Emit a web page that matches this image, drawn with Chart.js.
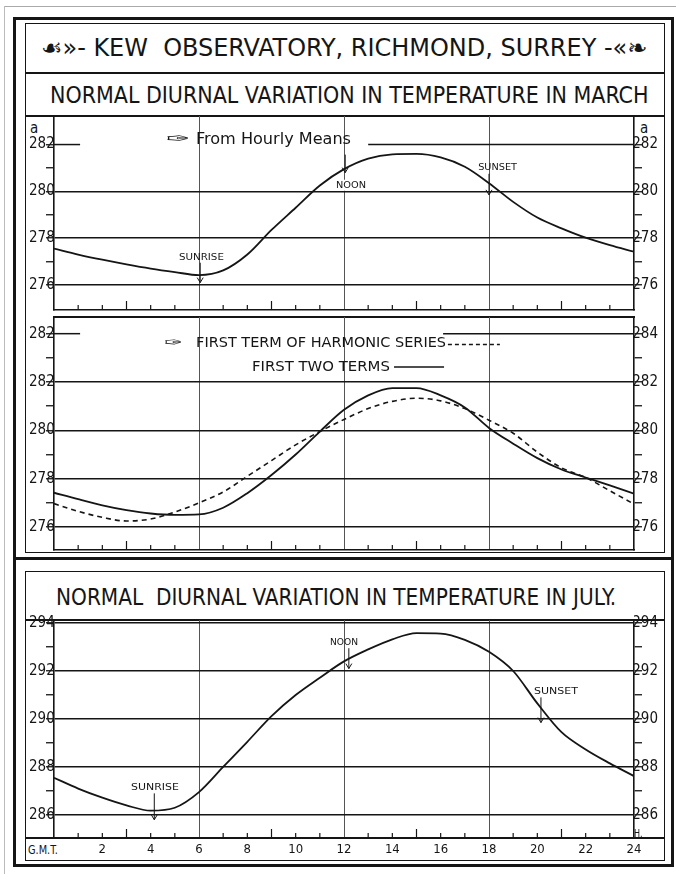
<!DOCTYPE html>
<html>
<head>
<meta charset="utf-8">
<script src="https://cdn.jsdelivr.net/npm/chart.js@4.4.0/dist/chart.umd.min.js"></script>
<style>
body{margin:0;background:#fff;width:676px;height:874px;position:relative;overflow:hidden;
  font-family:"Liberation Sans Narrow","DejaVu Sans Condensed","DejaVu Sans",sans-serif;color:#151515}
.ln{position:absolute;background:#151515}
.box{position:absolute;border:1.5px solid #151515;box-sizing:border-box}
.ttl{position:absolute;white-space:pre;transform-origin:0 50%;line-height:1}
canvas{position:absolute}
</style>
</head>
<body>
<!-- page edge of the scan -->
<div class="ln" style="left:4px;top:6px;width:672px;height:1px;background:#aaa"></div>
<div class="ln" style="left:4px;top:6px;width:1px;height:868px;background:#bbb"></div>
<!-- frames -->
<div class="box" style="left:13px;top:17px;width:661px;height:850px;border-width:3px"></div>
<div class="box" style="left:25px;top:23px;width:640px;height:530px"></div>
<div class="ln" style="left:25px;top:72px;width:640px;height:1.5px"></div>
<div class="ln" style="left:25px;top:115px;width:640px;height:1.5px"></div>
<div class="ln" style="left:53px;top:316px;width:582px;height:1.5px"></div>
<div class="ln" style="left:13px;top:557px;width:661px;height:3px"></div>
<div class="box" style="left:25px;top:571px;width:640px;height:290px"></div>
<div class="ln" style="left:25px;top:619px;width:640px;height:1.5px"></div>
<div class="ln" style="left:25px;top:837px;width:640px;height:1.5px"></div>

<div class="ttl" data-x0="41" data-x1="647" data-cy="48" style="font-size:24px">☙»- KEW  OBSERVATORY, RICHMOND, SURREY -«❧</div>
<div class="ttl" data-x0="50" data-x1="649" data-cy="95" style="font-size:23px">NORMAL DIURNAL VARIATION IN TEMPERATURE IN MARCH</div>
<div class="ttl" data-x0="56" data-x1="616" data-cy="597" style="font-size:23px">NORMAL  DIURNAL VARIATION IN TEMPERATURE IN JULY.</div>
<div class="ttl" data-x0="28" data-x1="58" data-cy="849" style="font-size:13px">G.M.T.</div>
<div class="ttl" data-x0="30" data-x1="38" data-cy="128" style="font-size:15px">a</div>
<div class="ttl" data-x0="640" data-x1="648" data-cy="128" style="font-size:15px">a</div>

<canvas id="c1" width="638" height="210" style="left:26px;top:104px"></canvas>
<canvas id="c2" width="638" height="249" style="left:26px;top:305px"></canvas>
<canvas id="c3" width="638" height="254" style="left:26px;top:608px"></canvas>

<script>
// hours G.M.T.
var hours = [0,1,2,3,4,5,6,7,8,9,10,11,12,13,14,15,16,17,18,19,20,21,22,23,24];

// March, from hourly means (absolute degrees)
var marchHourly = [277.55,277.30,277.08,276.88,276.70,276.55,276.42,276.62,277.30,278.35,279.30,280.25,
                   280.95,281.40,281.58,281.60,281.45,281.05,280.35,279.55,278.88,278.42,278.02,277.70,277.42];
// March, first term of harmonic series
var marchFirstTerm = [276.97,276.65,276.40,276.25,276.33,276.62,277.00,277.45,278.10,278.75,279.40,279.95,
                      280.45,280.90,281.20,281.33,281.22,280.90,280.42,279.88,279.10,278.45,278.05,277.50,276.95];
// March, first two terms
var marchTwoTerms = [277.42,277.15,276.90,276.70,276.56,276.50,276.52,276.80,277.40,278.15,279.00,279.95,
                     280.85,281.45,281.75,281.75,281.45,280.95,280.10,279.45,278.85,278.38,278.05,277.72,277.38];
// July, hourly means
var julyHourly = [287.55,287.10,286.72,286.40,286.18,286.30,286.95,288.00,289.05,290.12,291.00,291.72,
                  292.40,292.90,293.32,293.58,293.56,293.30,292.80,292.00,290.65,289.45,288.73,288.15,287.62];

// tick values and labels
var marchTicks = [276,277,278,279,280,281,282];
var marchLabels = ['276','','278','','280','','282'];
var harmTicks = [276,277,278,279,280,281,282,283,284];
var harmLeftLabels = ['276','','278','','280','','282','','282'];
var harmRightLabels = ['276','','278','','280','','282','','284'];
var julyTicks = [286,287,288,289,290,291,292,293,294];
var julyLabels = ['286','','288','','290','','292','','294'];
var gmtLabels = [2,4,6,8,10,12,14,16,18,20,22,24];
var gridHours = [6,12,18];

var ink = '#151515';
var fontName = '"Liberation Sans Narrow", "DejaVu Sans Condensed", sans-serif';

// fit the html titles to their width
document.querySelectorAll('.ttl').forEach(function(el){
	var w = el.offsetWidth, h = el.offsetHeight;
	var x0 = +el.dataset.x0, x1 = +el.dataset.x1;
	el.style.left = x0 + 'px';
	el.style.top = (+el.dataset.cy - h/2) + 'px';
	el.style.transform = 'scaleX(' + ((x1 - x0)/w) + ')';
});

var decoPlugin = {
	id: 'deco',
	afterDatasetsDraw: function(chart, args, opts){
		var ctx = chart.ctx, a = chart.chartArea, x = chart.scales.x, y = chart.scales.y;
		ctx.save();
		ctx.strokeStyle = ink; ctx.fillStyle = ink;
		// hour ticks along the base
		ctx.lineWidth = 1.2;
		hours.forEach(function(h){
			if (h % 6 === 0) return;
			var px = x.getPixelForValue(h);
			var len = (h % 3 === 0) ? 9 : 5;
			ctx.beginPath(); ctx.moveTo(px, a.bottom); ctx.lineTo(px, a.bottom - len); ctx.stroke();
		});
		// broken grid lines
		ctx.lineWidth = 1.5;
		(opts.segs || []).forEach(function(s){
			var py = y.getPixelForValue(s.y);
			ctx.beginPath(); ctx.moveTo(x.getPixelForValue(s.x0), py); ctx.lineTo(x.getPixelForValue(s.x1), py); ctx.stroke();
		});
		// legend line samples
		(opts.samples || []).forEach(function(s){
			var py = y.getPixelForValue(s.y);
			ctx.setLineDash(s.dash || []);
			ctx.lineWidth = 1.5;
			ctx.beginPath(); ctx.moveTo(x.getPixelForValue(s.x0), py); ctx.lineTo(x.getPixelForValue(s.x1), py); ctx.stroke();
			ctx.setLineDash([]);
		});
		// arrows
		ctx.lineWidth = 1;
		(opts.arrows || []).forEach(function(r){
			var px = x.getPixelForValue(r.x), p0 = y.getPixelForValue(r.y0), p1 = y.getPixelForValue(r.y1);
			ctx.beginPath(); ctx.moveTo(px, p0); ctx.lineTo(px, p1); ctx.stroke();
			ctx.beginPath(); ctx.moveTo(px - 3, p1 - 5); ctx.lineTo(px, p1); ctx.lineTo(px + 3, p1 - 5); ctx.stroke();
		});
		// texts
		(opts.texts || []).forEach(function(t){
			ctx.font = t.size + 'px ' + fontName;
			var w = ctx.measureText(t.t).width;
			var px0 = x.getPixelForValue(t.x0), px1 = x.getPixelForValue(t.x1), py = y.getPixelForValue(t.y);
			if (t.bg) {
				ctx.fillStyle = '#fff';
				ctx.fillRect(px0 - 3, py - 6, px1 - px0 + 6, 11);
				ctx.fillStyle = ink;
			}
			ctx.save();
			ctx.translate(px0, py);
			ctx.scale((px1 - px0)/w, 1);
			ctx.textBaseline = 'middle';
			ctx.fillText(t.t, 0, 0);
			ctx.restore();
		});
		ctx.restore();
	}
};

function yAxis(pos, range, ticks, labels, gridVals){
	return {
		type: 'linear', position: pos, min: range[0], max: range[1],
		afterBuildTicks: function(s){ s.ticks = ticks.map(function(v){ return {value: v}; }); },
		ticks: {
			autoSkip: false, padding: 0, crossAlign: 'far', color: ink,
			font: {family: fontName, size: 15},
			callback: function(v, i){ return labels[i]; }
		},
		grid: {
			drawOnChartArea: pos === 'left',
			color: function(c){ return gridVals.indexOf(c.tick.value) >= 0 ? ink : 'transparent'; },
			lineWidth: 1.5, tickLength: 8, tickColor: ink, tickWidth: 1.3
		},
		border: {color: ink, width: 1.6},
		afterFit: function(s){ s.width = (pos === 'left') ? 25 : 24; s.paddingTop = 0; s.paddingBottom = 0; }
	};
}

function makePanel(id, p){
	return new Chart(document.getElementById(id), {
		type: 'line',
		data: {
			datasets: p.series.map(function(s){
				return {
					data: hours.map(function(h, i){ return {x: h, y: s.values[i]}; }),
					borderColor: ink, borderWidth: s.width, borderDash: s.dash || [],
					pointRadius: 0, fill: false, cubicInterpolationMode: 'monotone'
				};
			})
		},
		options: {
			responsive: false, animation: false, events: [],
			layout: {padding: {top: 12, bottom: p.padBottom, left: 3, right: 6}},
			plugins: {legend: {display: false}, tooltip: {enabled: false}, deco: p.deco},
			scales: {
				x: {
					type: 'linear', min: 0, max: 24,
					afterBuildTicks: function(s){ s.ticks = hours.map(function(v){ return {value: v}; }); },
					ticks: {
						display: p.xLabels, autoSkip: false, maxRotation: 0, padding: 4, color: ink,
						font: {family: fontName, size: 13},
						callback: function(v){ return gmtLabels.indexOf(v) >= 0 ? String(v) : ''; }
					},
					grid: {
						drawTicks: false, lineWidth: 1,
						color: function(c){ return gridHours.indexOf(c.tick.value) >= 0 ? '#555' : 'transparent'; }
					},
					border: {color: ink, width: 1.6},
					afterFit: function(s){ s.height = p.xHeight; s.paddingLeft = 0; s.paddingRight = 0; }
				},
				y: yAxis('left', p.range, p.ticks, p.leftLabels, p.gridVals),
				y2: yAxis('right', p.range, p.ticks, p.rightLabels, p.gridVals)
			}
		},
		plugins: [decoPlugin]
	});
}

makePanel('c1', {
	series: [{values: marchHourly, width: 1.8}],
	range: [274.93, 283.22], ticks: marchTicks, leftLabels: marchLabels, rightLabels: marchLabels,
	gridVals: [276, 278, 280], xLabels: false, xHeight: 0, padBottom: 4,
	deco: {
		segs: [{y: 282, x0: 0, x1: 1.08}, {y: 282, x0: 13.0, x1: 24}],
		texts: [
			{t: '✑', x0: 4.63, x1: 5.63, y: 282.21, size: 16},
			{t: 'From Hourly Means', x0: 5.88, x1: 12.29, y: 282.21, size: 16},
			{t: 'NOON', x0: 11.67, x1: 12.91, y: 280.24, size: 9, bg: true},
			{t: 'SUNSET', x0: 17.55, x1: 19.16, y: 281.0, size: 9},
			{t: 'SUNRISE', x0: 5.17, x1: 7.03, y: 277.16, size: 9}
		],
		arrows: [{x: 12.05, y0: 281.57, y1: 280.8}, {x: 18.0, y0: 280.75, y1: 279.85}, {x: 6.05, y0: 276.95, y1: 276.1}]
	}
});

makePanel('c2', {
	series: [{values: marchFirstTerm, width: 1.6, dash: [5, 4]}, {values: marchTwoTerms, width: 1.8}],
	range: [275.05, 284.69], ticks: harmTicks, leftLabels: harmLeftLabels, rightLabels: harmRightLabels,
	gridVals: [276, 278, 280, 282], xLabels: false, xHeight: 0, padBottom: 4,
	deco: {
		segs: [{y: 284, x0: 0, x1: 1.08}, {y: 284, x0: 16.1, x1: 24}],
		texts: [
			{t: '✑', x0: 4.55, x1: 5.3, y: 283.61, size: 14},
			{t: 'FIRST TERM OF HARMONIC SERIES', x0: 5.88, x1: 16.22, y: 283.61, size: 14},
			{t: 'FIRST TWO TERMS', x0: 8.19, x1: 13.9, y: 282.62, size: 14}
		],
		samples: [{x0: 16.3, x1: 18.45, y: 283.55, dash: [4, 3]}, {x0: 14.07, x1: 16.14, y: 282.62}]
	}
});

makePanel('c3', {
	series: [{values: julyHourly, width: 1.8}],
	range: [285.04, 294.125], ticks: julyTicks, leftLabels: julyLabels, rightLabels: julyLabels,
	gridVals: [286, 288, 290, 292, 294], xLabels: true, xHeight: 24, padBottom: 0,
	deco: {
		texts: [
			{t: 'NOON', x0: 11.42, x1: 12.58, y: 293.17, size: 9},
			{t: 'SUNSET', x0: 19.86, x1: 21.68, y: 291.13, size: 9},
			{t: 'SUNRISE', x0: 3.19, x1: 5.17, y: 287.13, size: 9},
			{t: 'H.', x0: 24.0, x1: 24.35, y: 285.17, size: 10}
		],
		arrows: [{x: 12.2, y0: 292.95, y1: 292.1}, {x: 20.15, y0: 290.9, y1: 289.85}, {x: 4.15, y0: 286.9, y1: 285.8}]
	}
});
</script>
</body>
</html>
